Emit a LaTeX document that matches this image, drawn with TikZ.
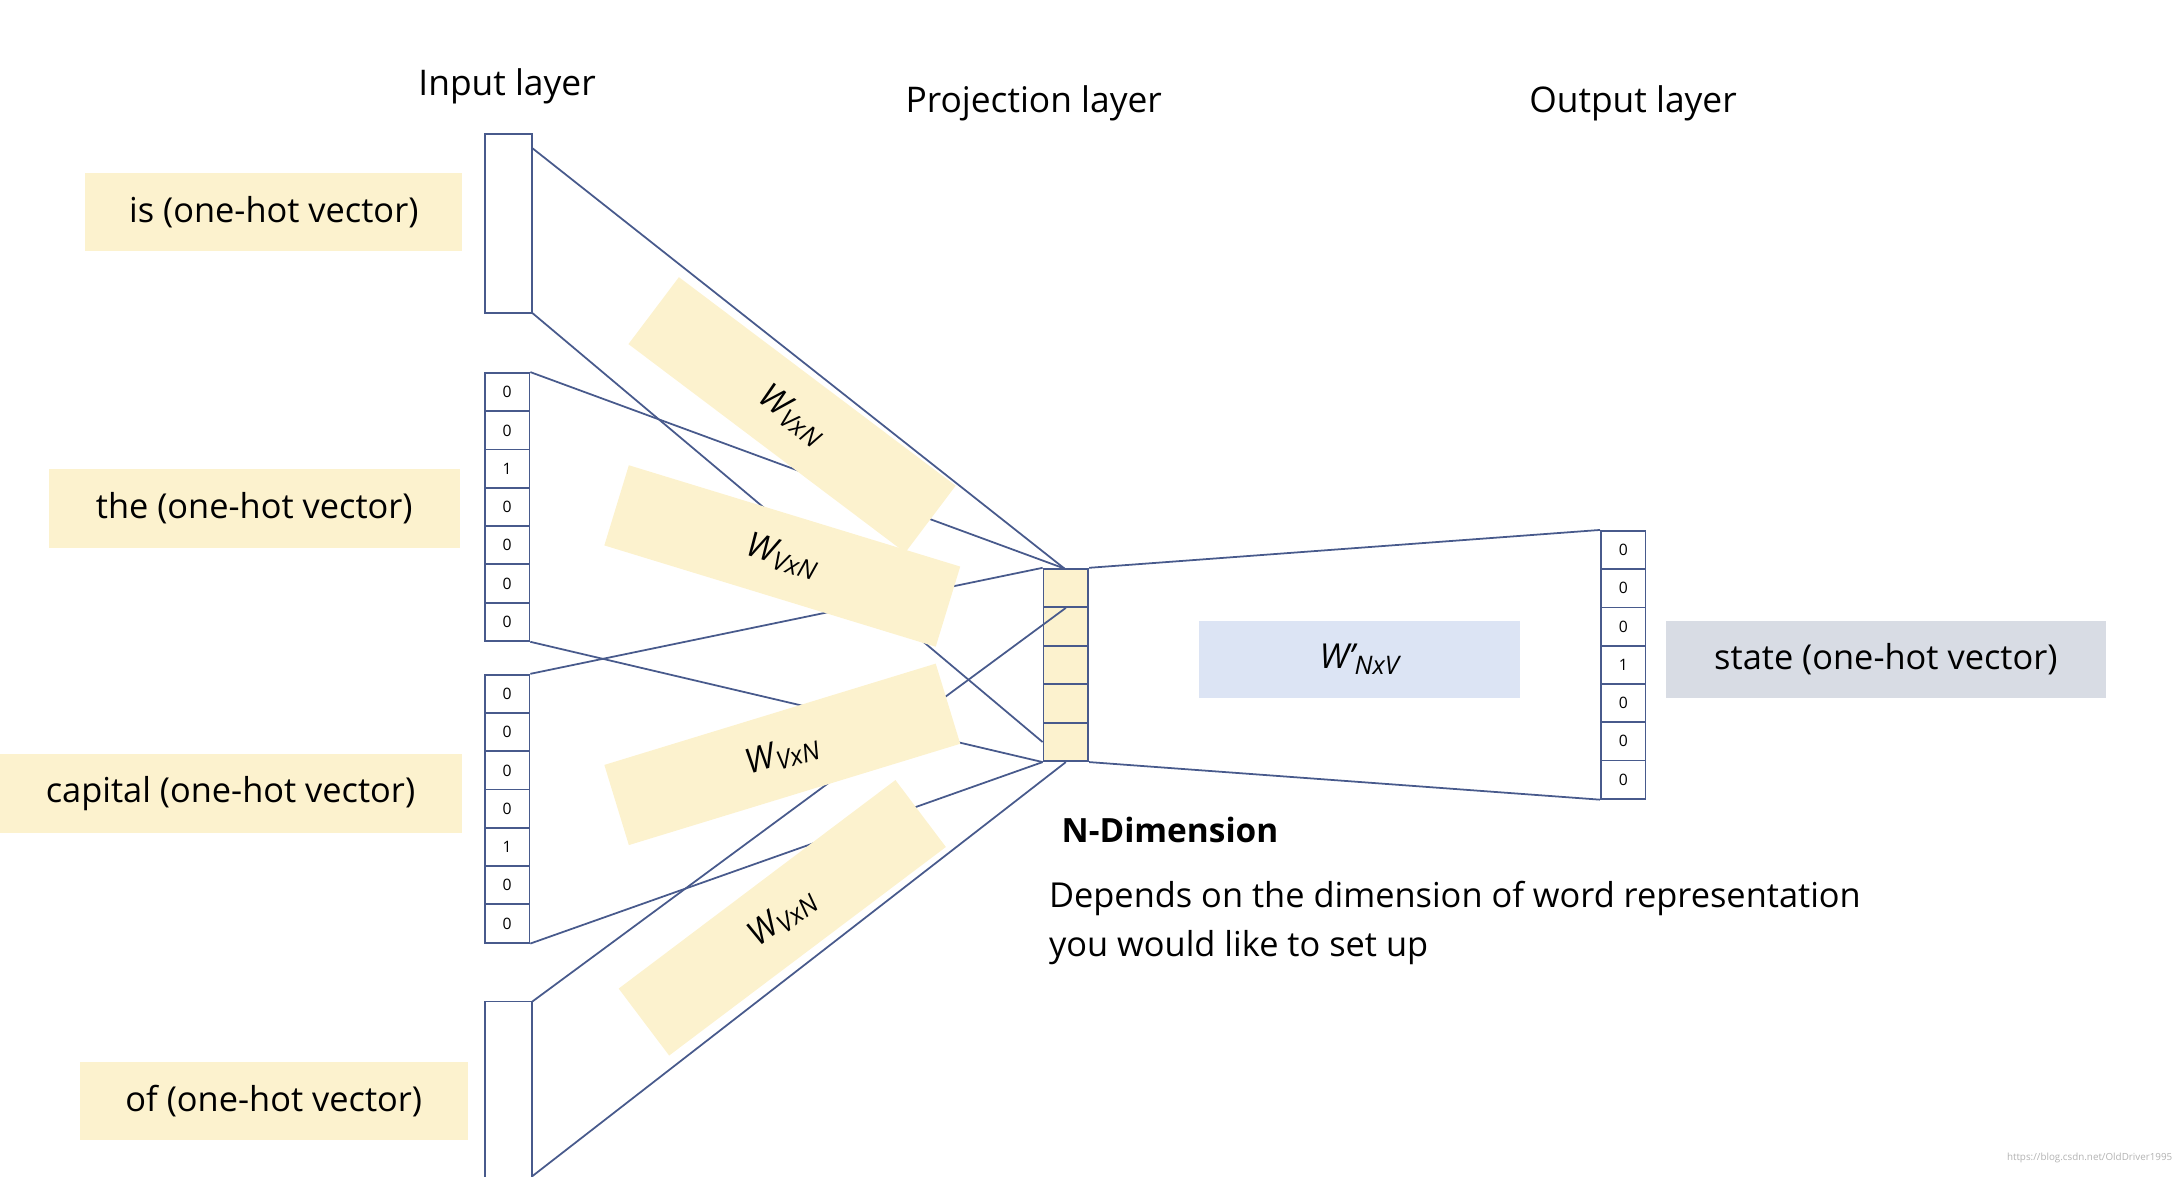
\documentclass[tikz,border=0pt]{standalone}
\usepackage{fontspec}
\setmainfont{Open Sans}
\usetikzlibrary{calc}
\definecolor{ly}{RGB}{252,242,206}
\definecolor{lb}{RGB}{220,228,244}
\definecolor{lg}{RGB}{216,220,228}
\definecolor{ln}{RGB}{72,90,140}
\begin{document}
\begin{tikzpicture}[x=0.025cm,y=-0.025cm,
  lab/.style={fill=ly,inner sep=0,anchor=center,font=\fontsize{17.5}{19}\selectfont},
  wbox/.style={fill=ly,minimum width=6.2cm,minimum height=1.5cm,inner sep=0,font=\fontsize{17.5}{19}\selectfont\itshape},
  cell/.style={draw=ln,line width=0.9pt,fill=white,minimum width=0.8cm,minimum height=0.685cm,inner sep=0,font=\fontsize{8}{9}\selectfont},
  bar/.style={draw=ln,line width=0.9pt,fill=white,inner sep=0},
  con/.style={draw=ln,line width=0.9pt},
  ttl/.style={font=\fontsize{18}{20}\selectfont}]
\useasboundingbox (0,0) rectangle (1562,842);
% labels
\node[lab,minimum width=6.75cm,minimum height=1.4cm] (l1) at (196,152) {is (one-hot vector)};
\node[lab,minimum width=7.35cm,minimum height=1.4cm] (l2) at (182,364) {the (one-hot vector)};
\node[lab,minimum width=8.28cm,minimum height=1.4cm] (l3) at (165,568) {capital (one-hot vector)};
\node[lab,minimum width=6.95cm,minimum height=1.4cm] (l4) at (196,788) {of (one-hot vector)};
\node[fill=lg,minimum width=7.88cm,minimum height=1.38cm,inner sep=0,font=\fontsize{17.5}{19}\selectfont] (st) at (1350,472) {state (one-hot vector)};
\node[fill=lb,minimum width=5.75cm,minimum height=1.38cm,inner sep=0,font=\fontsize{17.5}{19}\selectfont\itshape] (wp) at (973,472) {W’\raisebox{-0.3ex}{\fontsize{13}{14}\selectfont NxV}};
% titles
\node[ttl] (t1) at (363,62) {Input layer};
\node[ttl] (t2) at (740,74) {Projection layer};
\node[ttl] (t3) at (1169,74) {Output layer};
\node[anchor=west,font=\fontsize{17}{19}\selectfont\bfseries] (nd) at (755,594) {N-Dimension};
\node[anchor=north west,align=left,font=\fontsize{17.5}{25}\selectfont] (dep) at (746,626) {Depends on the dimension of word representation\\you would like to set up};
\node[anchor=east,text=gray!60,font=\fontsize{5}{6}\selectfont] (wm) at (1560,829) {https://blog.csdn.net/OldDriver1995};
% input bars
\node[bar,minimum width=0.85cm,minimum height=3.2cm] (is) at (364,160) {};
\node[bar,minimum width=0.85cm,minimum height=3.5cm] (of) at (364,787) {};
\foreach \v [count=\i] in {0,0,1,0,0,0,0} \node[cell] (a\i) at (363,{267+27.4*(\i-0.5)}) {\v};
\foreach \v [count=\i] in {0,0,0,0,1,0,0} \node[cell] (b\i) at (363,{483+27.4*(\i-0.5)}) {\v};
\foreach \v [count=\i] in {0,0,0,1,0,0,0} \node[cell] (c\i) at (1162,{380+27.4*(\i-0.5)}) {\v};
\foreach \i in {1,...,5} \node[cell,fill=ly] (p\i) at (763,{407+27.6*(\i-0.5)}) {};
% coordinates
\coordinate (isT) at (381,106); \coordinate (isB) at (381,224);
\coordinate (ofT) at (381,717); \coordinate (ofB) at (381,842);
\coordinate (pT) at (762,407);
% connectors
\draw[con] (isT) -- (pT);
\draw[con] (isB) -- (p5.west);
\draw[con] (a1.north east) -- (pT);
\draw[con] (a7.south east) -- (p5.south west);
\draw[con] (b1.north east) -- (p1.north west);
\draw[con] (b7.south east) -- (p5.south west);
\draw[con] (ofT) -- (p1.south);
\draw[con] (ofB) -- (p5.south);
\draw[con] (p1.north east) -- (c1.north west);
\draw[con] (p5.south east) -- (c7.south west);
% W boxes (over the lines)
\node[wbox,rotate=-37] (w1) at (567,297) {W\raisebox{-0.3ex}{\fontsize{13}{14}\selectfont VxN}};
\node[wbox,rotate=-17] (w2) at (560,398) {W\raisebox{-0.3ex}{\fontsize{13}{14}\selectfont VxN}};
\node[wbox,rotate=17] (w3) at (560,540) {W\raisebox{-0.3ex}{\fontsize{13}{14}\selectfont VxN}};
\node[wbox,rotate=37] (w4) at (560,657) {W\raisebox{-0.3ex}{\fontsize{13}{14}\selectfont VxN}};
\end{tikzpicture}
\end{document}
